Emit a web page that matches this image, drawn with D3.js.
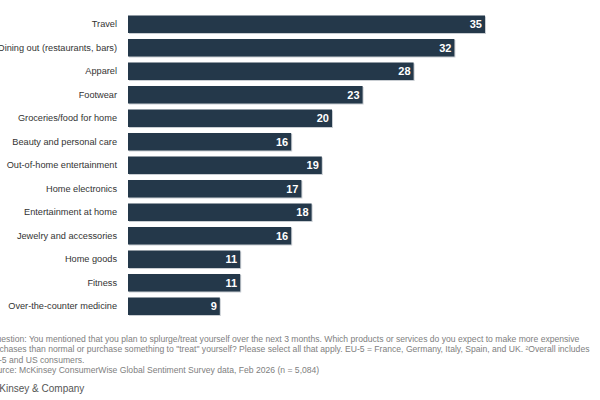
<!DOCTYPE html>
<html>
<head>
<meta charset="utf-8">
<script src="https://cdn.jsdelivr.net/npm/d3@7"></script>
<style>
  body { margin: 0; background: #fff; }
  svg { display: block; font-family: "Liberation Sans", Arial, sans-serif; }
</style>
</head>
<body>
<div id="chart"></div>
<script>
// data
var categories = [
  'Travel', 'Dining out (restaurants, bars)', 'Apparel', 'Footwear',
  'Groceries/food for home', 'Beauty and personal care', 'Out-of-home entertainment',
  'Home electronics', 'Entertainment at home', 'Jewelry and accessories',
  'Home goods', 'Fitness', 'Over-the-counter medicine'
];
var values = [35, 32, 28, 23, 20, 16, 19, 17, 18, 16, 11, 11, 9];

var notes = [
  '\u00b9Question: You mentioned that you plan to splurge/treat yourself over the next 3 months. Which products or services do you expect to make more expensive',
  'purchases than normal or purchase something to "treat" yourself? Please select all that apply. EU-5 = France, Germany, Italy, Spain, and UK. \u00b2Overall includes',
  'EU-5 and US consumers.',
  'Source: McKinsey ConsumerWise Global Sentiment Survey data, Feb 2026 (n = 5,084)'
];
var brand = 'McKinsey & Company';

var width = 600, height = 400;
var barColor = '#24384a';

var svg = d3.select('#chart').append('svg')
  .attr('width', width).attr('height', height);

var x = d3.scaleLinear().domain([0, 35]).range([128, 485]);
var y = d3.scaleBand().domain(categories)
  .range([12.5, 12.5 + categories.length * 23.5])
  .paddingInner(0.255).paddingOuter(0.1275);

var rows = svg.selectAll('g.row')
  .data(categories.map(function (c, i) { return { name: c, val: values[i] }; }))
  .enter().append('g').attr('class', 'row');

// faint light edge under each bar
rows.append('rect')
  .attr('x', x(0) + 1)
  .attr('y', function (d) { return y(d.name) + 1; })
  .attr('width', function (d) { return x(d.val) - x(0); })
  .attr('height', y.bandwidth())
  .attr('fill', '#c9ced3');

rows.append('rect')
  .attr('x', x(0))
  .attr('y', function (d) { return y(d.name); })
  .attr('width', function (d) { return x(d.val) - x(0); })
  .attr('height', y.bandwidth())
  .attr('fill', barColor);

rows.append('text')
  .attr('x', x(0) - 11)
  .attr('y', function (d) { return y(d.name) + y.bandwidth() / 2; })
  .attr('dy', '0.35em')
  .attr('text-anchor', 'end')
  .attr('font-size', 9.2)
  .attr('fill', '#333')
  .text(function (d) { return d.name; });

rows.append('text')
  .attr('x', function (d) { return x(d.val) - 3; })
  .attr('y', function (d) { return y(d.name) + y.bandwidth() / 2; })
  .attr('dy', '0.36em')
  .attr('text-anchor', 'end')
  .attr('font-size', 11)
  .attr('font-weight', 'bold')
  .attr('fill', '#fff')
  .text(function (d) { return d.val; });

// footnotes, left part runs off the page as in the original crop
svg.selectAll('text.note').data(notes).enter().append('text')
  .attr('class', 'note')
  .attr('x', -13)
  .attr('y', function (d, i) { return 342 + i * 10.3; })
  .attr('font-size', 8.6)
  .attr('fill', '#808080')
  .text(function (d) { return d; });

svg.append('text')
  .attr('x', -14)
  .attr('y', 392)
  .attr('font-size', 10)
  .attr('fill', '#555')
  .text(brand);
</script>
</body>
</html>
